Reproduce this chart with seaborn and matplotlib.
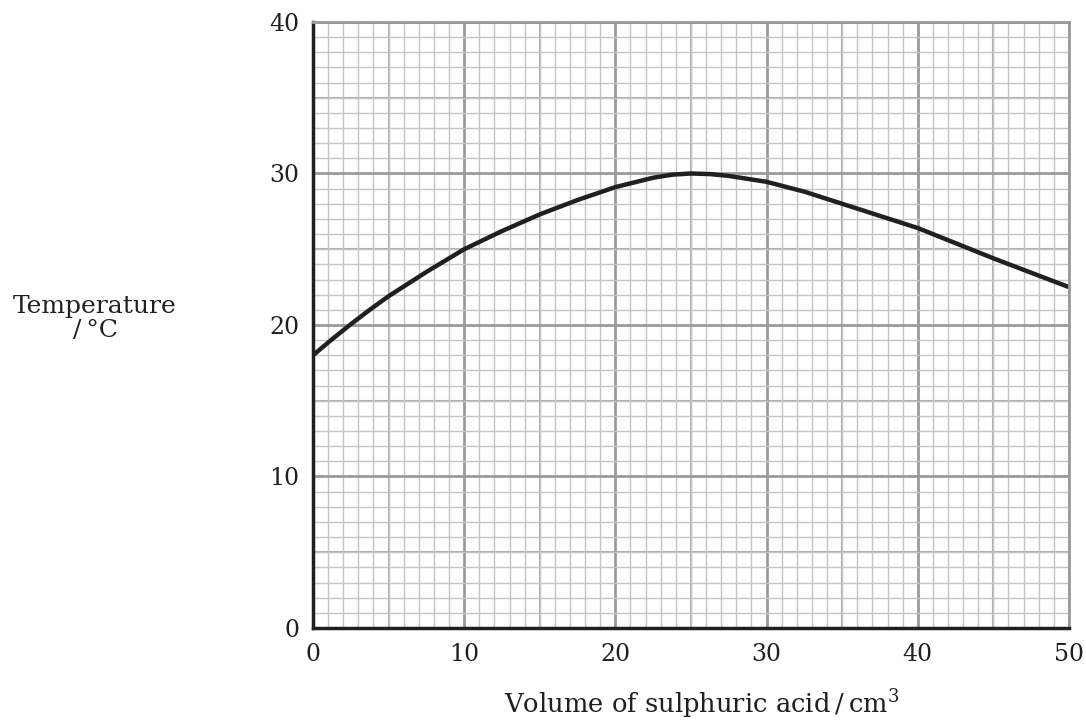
import numpy as np
import pandas as pd
import seaborn as sns
import matplotlib
matplotlib.use("Agg")
import matplotlib.pyplot as plt
from matplotlib.ticker import MultipleLocator

# values
volume = [0, 1.25, 2.5, 3.75, 5, 7.5, 10, 12.5, 15, 17.5, 20, 22.5, 23.75, 25,
          26.25, 27.5, 30, 32.5, 35, 37.5, 40, 42.5, 45, 47.5, 50]
temperature = [18.0, 19.05, 20.05, 21.0, 21.9, 23.5, 25.0, 26.2, 27.3, 28.25, 29.1,
               29.72, 29.92, 30.0, 29.96, 29.84, 29.45, 28.8, 28.0, 27.2, 26.4,
               25.4, 24.4, 23.45, 22.5]
x_ticks = [0, 10, 20, 30, 40, 50]
y_ticks = [0, 10, 20, 30, 40]

df = pd.DataFrame({"volume": volume, "temperature": temperature})

sns.set_theme(style="white")
plt.rcParams['font.family'] = ['DejaVu Serif']
plt.rcParams['mathtext.fontset'] = 'dejavuserif'

fig = plt.figure(figsize=(10.86, 7.23), dpi=100)
ax = fig.add_axes([0.2882, 0.1314, 0.6961, 0.8382])

# graph paper grid
ax.xaxis.set_minor_locator(MultipleLocator(1))
ax.yaxis.set_minor_locator(MultipleLocator(1))
ax.grid(which="minor", color="#c4c4c4", linewidth=1.0)
ax.grid(which="major", color="#9a9a9a", linewidth=2.0)
for v in [5, 15, 25, 35, 45]:
    ax.axvline(v, color="#adadad", linewidth=1.5, zorder=0.5)
for v in [5, 15, 25, 35]:
    ax.axhline(v, color="#adadad", linewidth=1.5, zorder=0.5)
ax.set_axisbelow(True)

sns.lineplot(data=df, x="volume", y="temperature", ax=ax, color="#231f20",
             linewidth=3.2, solid_joinstyle="round", solid_capstyle="butt")

ax.set_xlim(0, 50)
ax.set_ylim(0, 40)
ax.set_xticks(x_ticks)
ax.set_yticks(y_ticks)
ax.tick_params(which="major", direction="out", length=5, width=2, color="#231f20",
               labelsize=17, labelcolor="#231f20")
ax.tick_params(axis="x", pad=6)
ax.tick_params(axis="y", pad=5)
ax.tick_params(which="minor", length=0)

for side in ["left", "bottom"]:
    ax.spines[side].set_color("#231f20")
    ax.spines[side].set_linewidth(2.5)
for side in ["top", "right"]:
    ax.spines[side].set_color("#9a9a9a")
    ax.spines[side].set_linewidth(2.0)

ax.set_xlabel("")
ax.set_ylabel("")
fig.text(0.0875, 0.560, "Temperature\n/\u2009°C", ha="center", va="center",
         multialignment="center", fontsize=18, color="#231f20", linespacing=1.05)
fig.text(0.646, 0.0138, "Volume of sulphuric acid\u2009/\u2009cm$^3$", ha="center",
         va="baseline", fontsize=18.5, color="#231f20")

fig.savefig("out.png", dpi=100)
